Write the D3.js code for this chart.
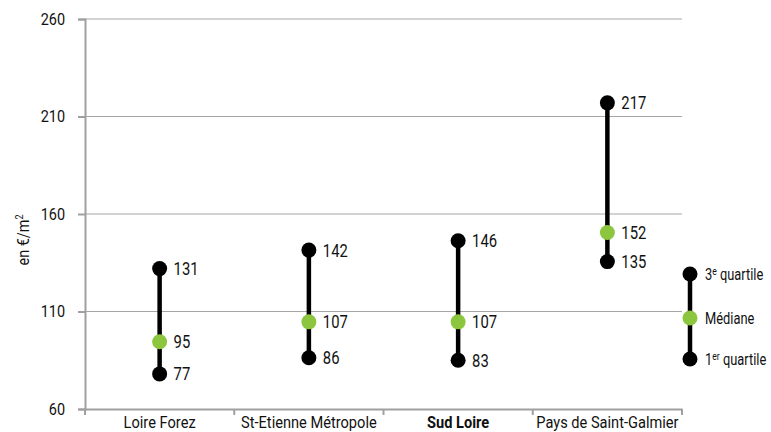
<!DOCTYPE html>
<html>
<head>
<meta charset="utf-8">
<script src="https://cdn.jsdelivr.net/npm/d3@7.9.0/dist/d3.min.js"></script>
<style>
  body { margin: 0; background: #fff; }
  text { font-family: Roboto, "Liberation Sans", sans-serif; fill: #111; }
</style>
</head>
<body>
<svg width="771" height="432"></svg>
<script>
const categories = ['Loire Forez', 'St-Etienne Métropole', 'Sud Loire', 'Pays de Saint-Galmier'];
// positions of the dots as drawn in the picture
const q1 = [78, 86.3, 85, 135.6];
const median = [94.5, 104.7, 104.7, 150.5];
const q3 = [132, 141.5, 146.3, 217];
// printed labels
const q1Labels = ['77', '86', '83', '135'];
const medianLabels = ['95', '107', '107', '152'];
const q3Labels = ['131', '142', '146', '217'];
const yTicks = [60, 110, 160, 210, 260];

const svg = d3.select('svg');
const x = d3.scaleBand().domain(categories).range([85, 682]);
const y = d3.scaleLinear().domain([60, 260]).range([409, 19]);

// horizontal squeeze of a text around its anchor x, to mimic a condensed face
function squeeze(sel, sx) {
  sel.each(function () {
    const t = d3.select(this);
    const ax = +t.attr('x') || 0;
    t.attr('transform', `translate(${ax},0) scale(${sx},1) translate(${-ax},0)`);
  });
}

// grid lines
svg.append('g').selectAll('line').data(yTicks.slice(1)).join('line')
  .attr('x1', 85).attr('x2', 682)
  .attr('y1', d => y(d)).attr('y2', d => y(d))
  .attr('stroke', '#a6a6a6').attr('stroke-width', 1);

// y axis
const yAxis = svg.append('g').attr('transform', 'translate(85,0)')
  .call(d3.axisLeft(y).tickValues(yTicks).tickSize(7).tickPadding(13));
yAxis.select('.domain').attr('stroke', '#a0a0a0').attr('stroke-width', 2);
yAxis.selectAll('.tick line').attr('stroke', '#a0a0a0').attr('stroke-width', 2);
yAxis.selectAll('text').style('font-size', '17px').attr('fill', '#111').call(squeeze, 0.85);

// x axis
const xAxis = svg.append('g').attr('transform', 'translate(0,409)')
  .call(d3.axisBottom(x).tickSize(0).tickPadding(0));
xAxis.select('.domain').attr('stroke', '#a0a0a0').attr('stroke-width', 2);
xAxis.selectAll('text').attr('dy', null).attr('y', 19.5)
  .style('font-size', '17px').attr('fill', '#111')
  .style('font-weight', d => d === 'Sud Loire' ? 'bold' : 'normal')
  .call(squeeze, 0.86);
// separators between categories
svg.append('g').selectAll('line').data([...categories.map(c => x(c)), x.range()[1]]).join('line')
  .attr('x1', d => d).attr('x2', d => d)
  .attr('y1', 409).attr('y2', 415)
  .attr('stroke', '#a0a0a0').attr('stroke-width', 2);

// y label
svg.append('text')
  .attr('transform', 'translate(29,240) rotate(-90) scale(0.9,1)')
  .attr('text-anchor', 'middle')
  .style('font-size', '16px')
  .html('en €/m<tspan dy="-6" style="font-size:10px">2</tspan>');

// ranges
const rows = categories.map((c, i) => ({ c, q1: q1[i], med: median[i], q3: q3[i] }));
const cx = d => x(d.c) + x.bandwidth() / 2;
const g = svg.append('g');
g.selectAll('line.rng').data(rows).join('line')
  .attr('x1', cx).attr('x2', cx)
  .attr('y1', d => y(d.q1)).attr('y2', d => y(d.q3))
  .attr('stroke', '#000').attr('stroke-width', 4.5);

const pts = [];
categories.forEach((c, i) => {
  pts.push({ c, v: q3[i], label: q3Labels[i], color: '#000' });
  pts.push({ c, v: median[i], label: medianLabels[i], color: '#8cc63f' });
  pts.push({ c, v: q1[i], label: q1Labels[i], color: '#000' });
});
g.selectAll('circle').data(pts).join('circle')
  .attr('cx', cx).attr('cy', d => y(d.v)).attr('r', 7.5)
  .attr('fill', d => d.color);
g.selectAll('text').data(pts).join('text')
  .attr('x', d => cx(d) + 14).attr('y', d => y(d.v) + 6.5)
  .style('font-size', '18.5px')
  .text(d => d.label)
  .call(squeeze, 0.8);

// legend
const lg = svg.append('g');
const lx = 690;
lg.append('line').attr('x1', lx).attr('x2', lx).attr('y1', 274).attr('y2', 359)
  .attr('stroke', '#000').attr('stroke-width', 4.5);
[[274, '#000'], [318, '#8cc63f'], [359, '#000']].forEach(([ly, col]) => {
  lg.append('circle').attr('cx', lx).attr('cy', ly).attr('r', 7.5).attr('fill', col);
});
const legendTexts = [
  [280.5, '3<tspan dy="-5" style="font-size:11px">e</tspan><tspan dy="5"> quartile</tspan>'],
  [324.5, 'Médiane'],
  [365.5, '1<tspan dy="-5" style="font-size:11px">er</tspan><tspan dy="5"> quartile</tspan>']
];
legendTexts.forEach(([ly, h]) => {
  lg.append('text').attr('x', 705).attr('y', ly).style('font-size', '16.5px').html(h)
    .call(squeeze, 0.78);
});
</script>
</body>
</html>
